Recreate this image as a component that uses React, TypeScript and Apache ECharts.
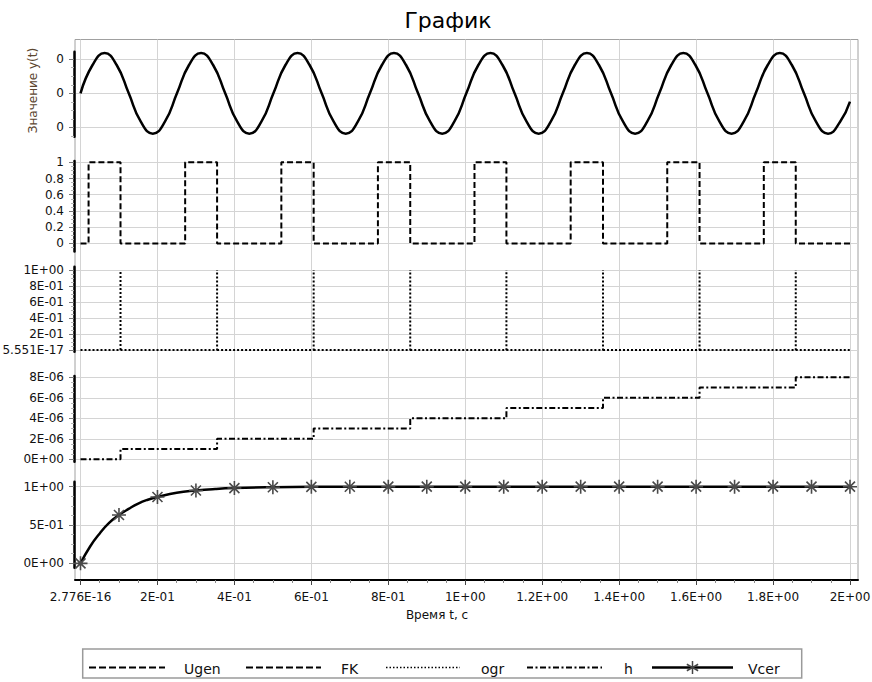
import React, { useEffect, useRef } from 'react';
import * as echarts from 'echarts';

// ---------- data ----------
const seriesNames = ['Ugen', 'FK', 'ogr', 'h', 'Vcer'];

const ugenTime = [
  0, 0.0313, 0.0627, 0.094, 0.1254, 0.1567, 0.188, 0.2194,
  0.2507, 0.282, 0.3134, 0.3447, 0.3761, 0.4074, 0.4387, 0.4701,
  0.5014, 0.5327, 0.5641, 0.5954, 0.6268, 0.6581, 0.6894, 0.7208,
  0.7521, 0.7834, 0.8148, 0.8461, 0.8774, 0.9088, 0.9401, 0.9715,
  1.0028, 1.0341, 1.0655, 1.0968, 1.1282, 1.1595, 1.1908, 1.2222,
  1.2535, 1.2848, 1.3162, 1.3475, 1.3789, 1.4102, 1.4415, 1.4729,
  1.5042, 1.5355, 1.5669, 1.5982, 1.6296, 1.6609, 1.6922, 1.7236,
  1.7549, 1.7862, 1.8176, 1.8489, 1.8803, 1.9116, 1.9429, 1.9743,
  2.0,
];
const ugenValue = [
  0, 0.00083, 0.00118, 0.00083, 0, -0.00083, -0.00118, -0.00083,
  0, 0.00083, 0.00118, 0.00083, 0, -0.00083, -0.00118, -0.00083,
  0, 0.00083, 0.00118, 0.00083, 0, -0.00083, -0.00118, -0.00083,
  0, 0.00083, 0.00118, 0.00083, 0, -0.00083, -0.00118, -0.00083,
  0, 0.00083, 0.00118, 0.00083, 0, -0.00083, -0.00118, -0.00083,
  0, 0.00083, 0.00118, 0.00083, 0, -0.00083, -0.00118, -0.00083,
  0, 0.00083, 0.00118, 0.00083, 0, -0.00083, -0.00118, -0.00083,
  0, 0.00083, 0.00118, 0.00083, 0, -0.00083, -0.00118, -0.00083,
  -0.00024,
];

const fkTime = [0, 0.021, 0.104, 0.272, 0.355, 0.522, 0.606, 0.773, 0.857, 1.024, 1.107, 1.274, 1.358, 1.525, 1.609, 1.776, 1.859, 2.0];
const fkValue = [0, 1, 0, 1, 0, 1, 0, 1, 0, 1, 0, 1, 0, 1, 0, 1, 0, 0];

const ogrStart = 0;
const ogrEnd = 2.0;
const ogrBase = 5.551e-17;
const ogrPeak = 1;
const ogrSpikeTime = [0.104, 0.355, 0.606, 0.857, 1.107, 1.358, 1.609, 1.859];

const hTime = [0, 0.104, 0.355, 0.606, 0.857, 1.107, 1.358, 1.609, 1.859, 2.0];
const hValue = [0, 1e-6, 2e-6, 3e-6, 4e-6, 5e-6, 6e-6, 7e-6, 8e-6, 8e-6];

const vcerTime = [
  0, 0.025, 0.05, 0.075, 0.1, 0.125, 0.15, 0.175, 0.2, 0.25, 0.3, 0.35, 0.4,
  0.5, 0.6, 0.7, 0.8, 0.9, 1.0, 1.1, 1.2, 1.3, 1.4, 1.5, 1.6, 1.7, 1.8, 1.9, 2.0,
];
const vcerValue = [
  0, 0.22, 0.39, 0.53, 0.63, 0.71, 0.78, 0.83, 0.865, 0.92, 0.95, 0.97, 0.982,
  0.993, 0.998, 0.999, 1, 1, 1, 1, 1, 1, 1, 1, 1, 1, 1, 1, 1,
];
const vcerMarkTime = [0, 0.1, 0.2, 0.3, 0.4, 0.5, 0.6, 0.7, 0.8, 0.9, 1.0, 1.1, 1.2, 1.3, 1.4, 1.5, 1.6, 1.7, 1.8, 1.9, 2.0];

// tick labels
const xTicks = [2.776e-16, 0.2, 0.4, 0.6, 0.8, 1.0, 1.2, 1.4, 1.6, 1.8, 2.0];
const ugenTicks = [-0.001, 0, 0.001];
const fkTicks = [0, 0.2, 0.4, 0.6, 0.8, 1];
const ogrTicks = [5.551e-17, 0.2, 0.4, 0.6, 0.8, 1];
const hTicks = [0, 2e-6, 4e-6, 6e-6, 8e-6];
const vcerTicks = [0, 0.5, 1];

// ---------- formatting ----------
const FONT = "'DejaVu Sans', sans-serif";

function fmtE(v: number): string {
  const s = v.toExponential(3);
  const [m, e] = s.split('e');
  const mant = m.replace(/\.?0+$/, '') || '0';
  const exp = parseInt(e, 10);
  const sign = exp < 0 ? '-' : '+';
  return mant + 'E' + sign + String(Math.abs(exp)).padStart(2, '0');
}
const fmt0 = (v: number) => String(Math.round(v));
const fmtPlain = (v: number) => String(v);

// ---------- layout ----------
const X_MIN = -0.0143;
const X_MAX = 2.0208;
const BOX = { left: 75, top: 39.5, width: 783, height: 540.5 };
const GRID_COLOR = '#d4d4d4';

const panels = [
  { top: 51.7, bottom: 136.7, min: -0.00127, max: 0.00122, step: 0.001, ticks: ugenTicks, fmt: fmt0 },
  { top: 161, bottom: 251.5, min: -0.1, max: 1.016, step: 0.2, ticks: fkTicks, fmt: fmtPlain },
  { top: 266.7, bottom: 351.7, min: -0.021, max: 1.041, step: 0.2, ticks: ogrTicks, fmt: fmtE },
  { top: 376, bottom: 461.7, min: -0.234e-6, max: 8.13e-6, step: 2e-6, ticks: hTicks, fmt: fmtE },
  { top: 481.7, bottom: 567.7, min: -0.057, max: 1.065, step: 0.5, ticks: vcerTicks, fmt: fmtE },
];

const STAR = 'path://M7,0L7,14M0,7L14,7M2,2L12,12M2,12L12,2';

function buildOption() {
  const grids: any[] = [
    { ...BOX, show: true, borderColor: '#a0a0a0', borderWidth: 1, backgroundColor: '#fff', outerBoundsMode: 'none', containLabel: false },
  ];
  const xAxes: any[] = [
    {
      type: 'value', gridIndex: 0, min: X_MIN, max: X_MAX, minInterval: 0.2, maxInterval: 0.2,
      axisLine: { show: true, onZero: false, lineStyle: { color: '#000', width: 2 } },
      axisTick: { show: true, customValues: xTicks, length: 5, lineStyle: { color: '#444', width: 1 } },
      minorTick: { show: true, splitNumber: 4, length: 3, lineStyle: { color: '#888', width: 1 } },
      axisLabel: { show: true, customValues: xTicks, formatter: fmtE, fontSize: 12, fontFamily: FONT, color: '#111', margin: 11, showMinLabel: true, showMaxLabel: true, hideOverlap: false },
      splitLine: { show: true, lineStyle: { color: GRID_COLOR, width: 1 } },
    },
  ];
  const yAxes: any[] = [{ type: 'value', gridIndex: 0, show: false, min: 0, max: 1 }];

  panels.forEach((p, i) => {
    grids.push({ left: BOX.left, width: BOX.width, top: p.top, height: p.bottom - p.top, show: false, outerBoundsMode: 'none', containLabel: false });
    xAxes.push({ type: 'value', gridIndex: i + 1, min: X_MIN, max: X_MAX, show: false, splitLine: { show: false } });
    yAxes.push({
      type: 'value', gridIndex: i + 1, min: p.min, max: p.max, minInterval: p.step, maxInterval: p.step, offset: 1,
      axisLine: { show: true, onZero: false, lineStyle: { color: '#000', width: 2.5 } },
      axisTick: { show: true, customValues: p.ticks, length: 5, lineStyle: { color: '#777', width: 1 } },
      minorTick: { show: true, splitNumber: 4, length: 3, lineStyle: { color: '#b4b4b4', width: 1 } },
      axisLabel: { show: true, customValues: p.ticks, formatter: p.fmt, fontSize: 12, fontFamily: FONT, color: '#111', margin: 10, showMinLabel: true, showMaxLabel: true, hideOverlap: false },
      splitLine: { show: true, lineStyle: { color: GRID_COLOR, width: 1 } },
    });
  });

  const ogrData: any[] = [[ogrStart, ogrBase]];
  ogrSpikeTime.forEach((t) => {
    ogrData.push([t, ogrBase], [t, ogrPeak], [t, '-'], [t, ogrBase]);
  });
  ogrData.push([ogrEnd, ogrBase]);

  const isMark = (t: number) => vcerMarkTime.some((m) => Math.abs(m - t) < 1e-9);

  const series: any[] = [
    {
      type: 'line', name: seriesNames[0], xAxisIndex: 1, yAxisIndex: 1,
      data: ugenTime.map((t, i) => [t, ugenValue[i]]),
      smooth: true, symbol: 'none', lineStyle: { color: '#000', width: 2.5 },
    },
    {
      type: 'line', name: seriesNames[1], xAxisIndex: 2, yAxisIndex: 2,
      data: fkTime.map((t, i) => [t, fkValue[i]]),
      step: 'end', symbol: 'none', lineStyle: { color: '#000', width: 2, type: [6, 3] },
    },
    {
      type: 'line', name: seriesNames[2], xAxisIndex: 3, yAxisIndex: 3,
      data: ogrData, connectNulls: false,
      symbol: 'none', lineStyle: { color: '#000', width: 2, type: [2, 2] },
    },
    {
      type: 'line', name: seriesNames[3], xAxisIndex: 4, yAxisIndex: 4,
      data: hTime.map((t, i) => [t, hValue[i]]),
      step: 'end', symbol: 'none', lineStyle: { color: '#000', width: 2, type: [6, 2.5, 2, 2.5] },
    },
    {
      type: 'line', name: seriesNames[4], xAxisIndex: 5, yAxisIndex: 5,
      data: vcerTime.map((t, i) => (isMark(t) ? { value: [t, vcerValue[i]] } : { value: [t, vcerValue[i]], symbol: 'none' })),
      smooth: true, showAllSymbol: true, symbol: STAR, symbolSize: 14,
      itemStyle: { color: '#4a4a4a', borderColor: '#4a4a4a', borderWidth: 1.6 },
      lineStyle: { color: '#000', width: 2.5 },
      z: 3,
    },
  ];

  // legend (drawn with graphic elements)
  const legendSamples = [
    { x1: 89, x2: 165, tx: 184, dash: [7, 3], width: 2 },
    { x1: 246, x2: 321, tx: 341, dash: [7, 3], width: 2 },
    { x1: 386, x2: 460, tx: 481, dash: [1.5, 2], width: 1.5 },
    { x1: 527, x2: 602, tx: 624, dash: [6, 2.5, 2, 2.5], width: 2 },
    { x1: 652, x2: 733, tx: 748, dash: null as any, width: 2.5 },
  ];
  const LY = 667.5;
  const legendChildren: any[] = [
    { type: 'rect', shape: { x: 82.7, y: 649, width: 719, height: 29 }, style: { fill: '#fff', stroke: '#9a9a9a', lineWidth: 1.5 } },
  ];
  seriesNames.forEach((name, i) => {
    const s = legendSamples[i];
    legendChildren.push({
      type: 'line', shape: { x1: s.x1, y1: LY, x2: s.x2, y2: LY },
      style: { stroke: '#000', lineWidth: s.width, lineDash: s.dash || undefined },
    });
    legendChildren.push({
      type: 'text', x: s.tx, y: LY + 1,
      style: { text: name, fontSize: 14, fontFamily: FONT, fill: '#111', align: 'left', verticalAlign: 'middle', textAlign: 'left', textVerticalAlign: 'middle' },
    });
  });
  // star marker on the Vcer legend sample
  const sx = 692.5, r = 6.5;
  [[0, -r, 0, r], [-r * 0.87, -r * 0.5, r * 0.87, r * 0.5], [-r * 0.87, r * 0.5, r * 0.87, -r * 0.5]].forEach((a) => {
    legendChildren.push({ type: 'line', shape: { x1: sx + a[0], y1: LY + a[1], x2: sx + a[2], y2: LY + a[3] }, style: { stroke: '#444', lineWidth: 1.5 } });
  });

  const graphic: any[] = [
    {
      type: 'text', x: 448, y: 20,
      style: { text: 'График', fontSize: 22, fontFamily: FONT, fill: '#000', align: 'center', verticalAlign: 'middle', textAlign: 'center', textVerticalAlign: 'middle' },
    },
    {
      type: 'text', x: 32.5, y: 90.5, rotation: Math.PI / 2,
      style: { text: 'Значение y(t)', fontSize: 12, fontFamily: FONT, fill: '#5c4630', align: 'center', verticalAlign: 'middle', textAlign: 'center', textVerticalAlign: 'middle' },
    },
    {
      type: 'text', x: 437, y: 615,
      style: { text: 'Время t, с', fontSize: 12, fontFamily: FONT, fill: '#111', align: 'center', verticalAlign: 'middle', textAlign: 'center', textVerticalAlign: 'middle' },
    },
    { type: 'group', children: legendChildren },
  ];

  return {
    animation: false,
    backgroundColor: '#fff',
    textStyle: { fontFamily: FONT },
    grid: grids,
    xAxis: xAxes,
    yAxis: yAxes,
    series,
    graphic,
  };
}

export default function App() {
  const ref = useRef<HTMLDivElement>(null);
  useEffect(() => {
    if (!ref.current) return;
    const chart = echarts.init(ref.current, undefined, { renderer: 'svg' });
    chart.setOption(buildOption() as any);
    return () => chart.dispose();
  }, []);
  return <div ref={ref} style={{ position: 'absolute', left: 0, top: 0, width: 872, height: 682 }} />;
}
